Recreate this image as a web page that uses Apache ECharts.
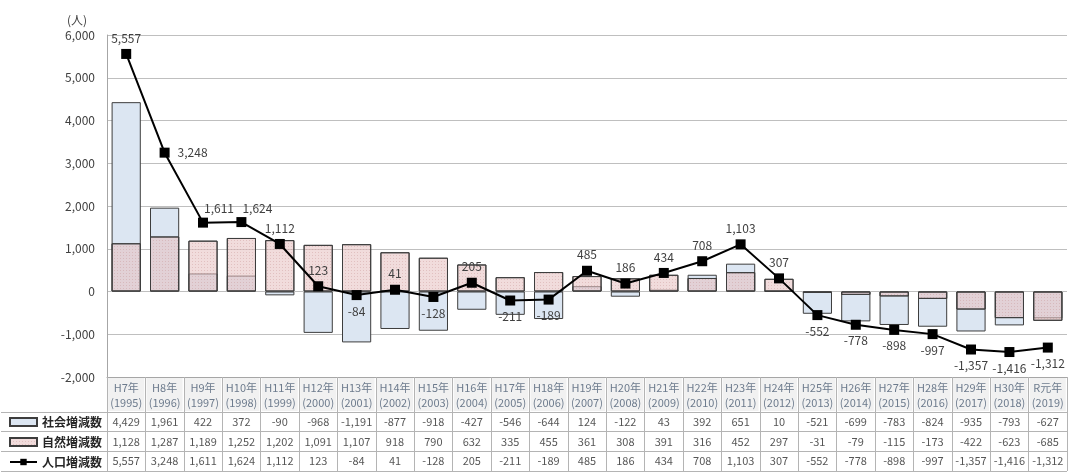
<!DOCTYPE html>
<html>
<head>
<meta charset="utf-8">
<script src="https://cdn.jsdelivr.net/npm/echarts@6/dist/echarts.min.js"></script>
<style>
  html, body { margin: 0; padding: 0; background: #fff; }
  #chart { width: 1069px; height: 472px; }
</style>
</head>
<body>
<div id="chart"></div>
<script>
// Fiscal-year column headings (era name + western year)
const eras = ['H7年','H8年','H9年','H10年','H11年','H12年','H13年','H14年','H15年','H16年','H17年','H18年','H19年',
              'H20年','H21年','H22年','H23年','H24年','H25年','H26年','H27年','H28年','H29年','H30年','R元年'];
const years = ['1995','1996','1997','1998','1999','2000','2001','2002','2003','2004','2005','2006','2007',
               '2008','2009','2010','2011','2012','2013','2014','2015','2016','2017','2018','2019'];

// Annual changes (persons)
const socialChange = [4429, 1961, 422, 372, -90, -968, -1191, -877, -918, -427, -546, -644, 124,
                      -122, 43, 392, 651, 10, -521, -699, -783, -824, -935, -793, -627];
const naturalChange = [1128, 1287, 1189, 1252, 1202, 1091, 1107, 918, 790, 632, 335, 455, 361,
                       308, 391, 316, 452, 297, -31, -79, -115, -173, -422, -623, -685];
const populationChange = [5557, 3248, 1611, 1624, 1112, 123, -84, 41, -128, 205, -211, -189, 485,
                          186, 434, 708, 1103, 307, -552, -778, -898, -997, -1357, -1416, -1312];

const rowNames = ['社会増減数', '自然増減数', '人口増減数'];
const yAxisMin = -2000, yAxisMax = 6000, yAxisStep = 1000;

const FONT = '"Noto Sans CJK JP", "Noto Sans", sans-serif';
const fmt = v => Number(v).toLocaleString('en-US');
const categories = eras.map((e, i) => e + '\n(' + years[i] + ')');
const GRID_LINE = '#bfbfbf';
const TABLE_LINE = '#b4b4b4';

// value labels of the total line: beside the point for one year, nudged right for two
function totalLabel(v, i) {
  if (i === 1) return { position: 'right', offset: [0, 0] };
  if (i === 2 || i === 3) return { position: 'top', offset: [16, 2] };
  return { position: v >= 0 ? 'top' : 'bottom', offset: [0, 0] };
}

// table cells: one point per (year, row)
const tableRows = [socialChange, naturalChange, populationChange];
const tableCells = [];
tableRows.forEach((row, r) => row.forEach((v, i) => tableCells.push([i, r, v])));

const chart = echarts.init(document.getElementById('chart'), null, { renderer: 'canvas' });

const option = {
  backgroundColor: '#fff',
  animation: false,
  textStyle: { fontFamily: FONT },
  title: {
    text: '(人)', left: 62, top: 9,
    textStyle: { fontFamily: FONT, fontSize: 12, fontWeight: 'normal', color: '#404040' }
  },
  legend: {
    orient: 'vertical', left: 9, top: 415, padding: 0, itemGap: 6, itemWidth: 27, itemHeight: 8,
    selectedMode: false,
    data: [{ name: rowNames[0], icon: 'rect' }, { name: rowNames[1], icon: 'rect' }, { name: rowNames[2] }],
    textStyle: { fontFamily: FONT, fontSize: 12, fontWeight: 'bold', color: '#262626', lineHeight: 14 }
  },
  grid: [
    { left: 107, right: 2, top: 35, bottom: 95 },
    { left: 107, right: 2, top: 412, bottom: 1 }
  ],
  xAxis: [
    {
      type: 'category', gridIndex: 0, data: categories,
      axisLine: { onZero: false, lineStyle: { color: '#a6a6a6' } },
      axisTick: { show: true, interval: 0, length: 35, lineStyle: { color: TABLE_LINE } },
      axisLabel: {
        interval: 0, margin: 1, fontFamily: FONT, fontSize: 11, color: '#6d7b8d', lineHeight: 15,
        width: 36, height: 31, padding: [2, 0, 0, 0], align: 'center', backgroundColor: '#f1f1f1'
      },
      splitLine: { show: false }
    },
    {
      type: 'category', gridIndex: 1, data: eras, position: 'top',
      axisLine: { show: true, lineStyle: { color: TABLE_LINE } },
      axisTick: { show: false }, axisLabel: { show: false },
      splitLine: { show: true, interval: 0, lineStyle: { color: TABLE_LINE } }
    }
  ],
  yAxis: [
    {
      type: 'value', gridIndex: 0, min: yAxisMin, max: yAxisMax, interval: yAxisStep,
      axisLine: { show: true, lineStyle: { color: '#a6a6a6' } },
      axisTick: { show: false },
      axisLabel: { formatter: fmt, fontFamily: FONT, fontSize: 12, color: '#404040', margin: 12 },
      splitLine: { lineStyle: { color: GRID_LINE, width: 1 } }
    },
    {
      type: 'category', gridIndex: 1, data: rowNames, inverse: true,
      axisLine: { show: true, lineStyle: { color: TABLE_LINE } },
      axisTick: { show: true, interval: 0, length: 106, lineStyle: { color: TABLE_LINE } },
      axisLabel: { show: false },
      splitLine: { show: true, interval: 0, lineStyle: { color: TABLE_LINE } }
    },
    {
      type: 'category', gridIndex: 1, data: rowNames, inverse: true, offset: 106,
      axisLine: { show: true, lineStyle: { color: TABLE_LINE } },
      axisTick: { show: false }, axisLabel: { show: false }, splitLine: { show: false }
    }
  ],
  series: [
    {
      name: rowNames[0], type: 'bar', data: socialChange, barWidth: '76%', barGap: '-100%', z: 2,
      itemStyle: { color: '#dce6f2', borderColor: '#3d3d3d', borderWidth: 1 }
    },
    {
      name: rowNames[1], type: 'bar', data: naturalChange, barWidth: '76%', barGap: '-100%', z: 2,
      itemStyle: {
        color: 'rgba(230,192,192,0.56)', borderColor: '#3d3d3d', borderWidth: 1,
        decal: { symbol: 'rect', symbolSize: 1, dashArrayX: [1, 2], dashArrayY: [1, 2], color: 'rgba(190,130,130,0.3)' }
      }
    },
    {
      // white label boxes that break the gridlines behind the value labels (kept under the bars)
      name: 'labelBacking', type: 'line', z: 1, silent: true,
      data: populationChange.map((v, i) => ({ value: v, label: totalLabel(v, i) })),
      symbol: 'none', lineStyle: { opacity: 0 },
      label: {
        show: true, distance: 5, fontFamily: FONT, fontSize: 12, color: 'rgba(0,0,0,0)',
        backgroundColor: '#fff', padding: [0, 3], formatter: p => fmt(p.value)
      }
    },
    {
      name: rowNames[2], type: 'line', z: 3, data: populationChange.map((v, i) => ({ value: v, label: totalLabel(v, i) })),
      symbol: 'rect', symbolSize: 10,
      lineStyle: { color: '#000', width: 2 }, itemStyle: { color: '#000' },
      label: {
        show: true, distance: 5, fontFamily: FONT, fontSize: 12, color: '#404040',
        padding: [0, 3], formatter: p => fmt(p.value)
      }
    },
    {
      name: 'table', type: 'scatter', xAxisIndex: 1, yAxisIndex: 1, data: tableCells,
      symbolSize: 1, itemStyle: { color: 'rgba(0,0,0,0)' }, silent: true,
      label: {
        show: true, position: 'inside', fontFamily: FONT, fontSize: 11, color: '#2b2b2b',
        formatter: p => fmt(p.value[2])
      }
    }
  ]
};

chart.setOption(option);
</script>
</body>
</html>
